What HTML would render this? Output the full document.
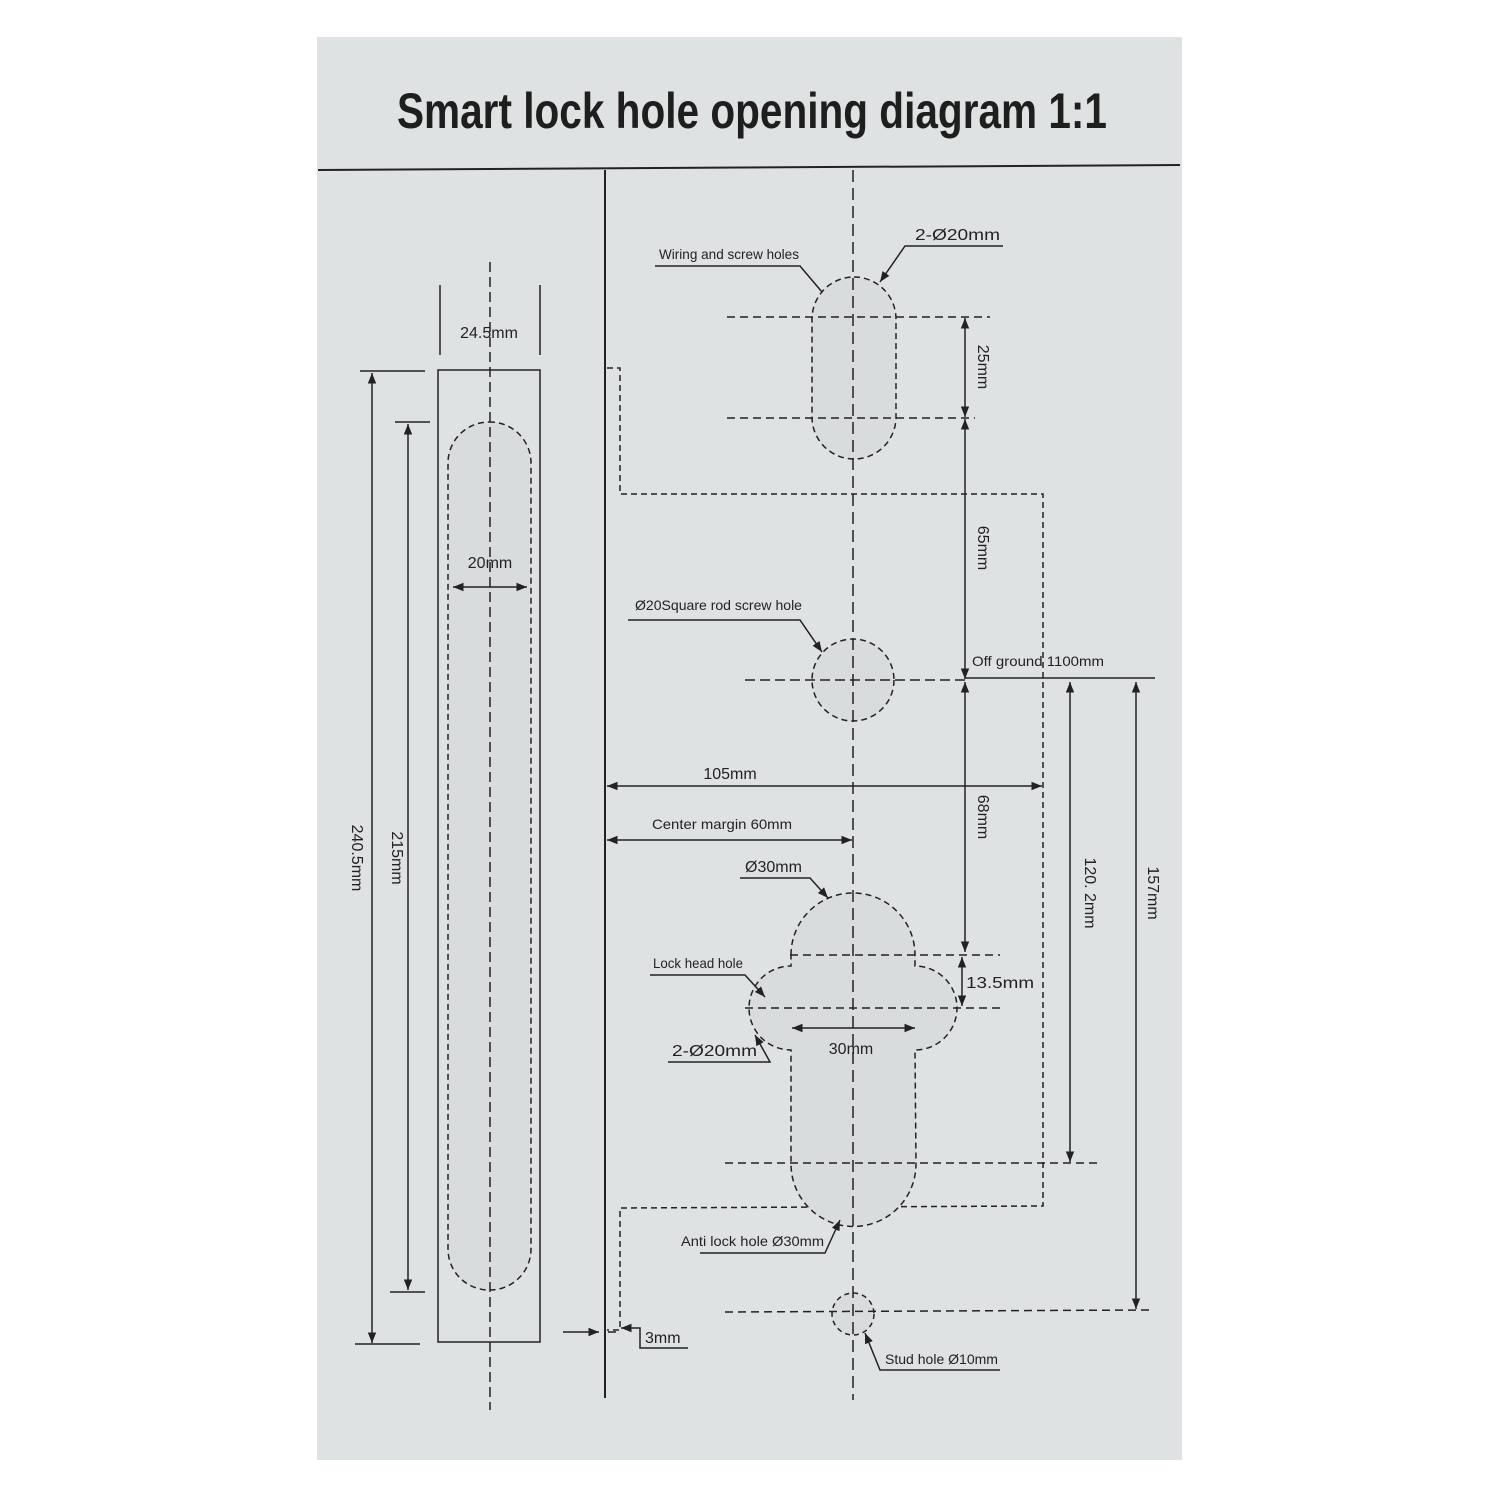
<!DOCTYPE html>
<html><head><meta charset="utf-8"><style>
html,body{margin:0;padding:0;background:#fff;width:1500px;height:1500px;overflow:hidden}
svg{display:block}
text{font-family:"Liberation Sans",sans-serif;fill:#222}
</style></head><body>
<svg width="1500" height="1500" viewBox="0 0 1500 1500" xmlns="http://www.w3.org/2000/svg">
<defs>
<marker id="a" viewBox="0 0 10 10" refX="10" refY="5" markerWidth="7" markerHeight="7" orient="auto-start-reverse"><path d="M0,1 L10,5 L0,9 z" fill="#222"/></marker>
</defs>
<rect width="1500" height="1500" fill="#fff"/>
<rect x="317" y="37" width="865" height="1423" fill="#dfe2e3"/>
<text x="752" y="128" font-size="50" text-anchor="middle" textLength="710" lengthAdjust="spacingAndGlyphs" font-weight="bold" style="fill:#1e1e1e">Smart lock hole opening diagram 1:1</text>
<line x1="318" y1="170" x2="1180" y2="165" stroke="#222" stroke-width="2"/>
<line x1="605" y1="170" x2="605" y2="1398" stroke="#222" stroke-width="2"/>

<g stroke="#222" stroke-width="1.5" fill="none">
<rect x="438" y="370" width="102" height="972"/>
<line x1="440" y1="285" x2="440" y2="355"/><line x1="540" y1="285" x2="540" y2="355"/>
<rect x="448" y="422" width="83" height="868" rx="41" fill="#d9dcdd" stroke-dasharray="6,4"/>
<line x1="490" y1="262" x2="490" y2="1410" stroke-dasharray="10,5"/>
<line x1="453" y1="587" x2="527" y2="587" marker-start="url(#a)" marker-end="url(#a)"/>
<line x1="360" y1="371" x2="425" y2="371"/><line x1="355" y1="1344" x2="420" y2="1344"/>
<line x1="372" y1="373" x2="372" y2="1343" marker-start="url(#a)" marker-end="url(#a)"/>
<line x1="395" y1="422" x2="430" y2="422"/><line x1="390" y1="1292" x2="425" y2="1292"/>
<line x1="408" y1="424" x2="408" y2="1290" marker-start="url(#a)" marker-end="url(#a)"/>

<path d="M607,368 L620,368 L620,494 L1043,494 L1043,1206 L620,1208 L620,1330 L607,1330" stroke-dasharray="6,4"/>

<rect x="812" y="277" width="84" height="182" rx="42" fill="#d9dcdd" stroke-dasharray="6,4"/>
<line x1="727" y1="317" x2="990" y2="317" stroke-dasharray="8,5"/>
<line x1="727" y1="418" x2="975" y2="418" stroke-dasharray="8,5"/>
<line x1="965" y1="318" x2="965" y2="417" marker-start="url(#a)" marker-end="url(#a)"/>
<line x1="965" y1="419" x2="965" y2="679" marker-start="url(#a)" marker-end="url(#a)"/>
<polyline points="655,266 800,266 822,292"/>
<polyline points="1003,246 905,246 880,282" marker-end="url(#a)"/>

<circle cx="853" cy="680" r="41" fill="#d9dcdd" stroke-dasharray="6,4"/>
<line x1="745" y1="680" x2="965" y2="680" stroke-dasharray="10,5"/>
<line x1="965" y1="678" x2="1155" y2="678"/>
<polyline points="628,620 800,620 822,652" marker-end="url(#a)"/>

<line x1="607" y1="786" x2="1042" y2="786" marker-start="url(#a)" marker-end="url(#a)"/>
<line x1="607" y1="840" x2="852" y2="840" marker-start="url(#a)" marker-end="url(#a)"/>
<line x1="965" y1="682" x2="965" y2="952" marker-start="url(#a)" marker-end="url(#a)"/>
<line x1="1070" y1="682" x2="1070" y2="1162" marker-start="url(#a)" marker-end="url(#a)"/>
<line x1="1136" y1="682" x2="1136" y2="1309" marker-start="url(#a)" marker-end="url(#a)"/>

<path d="M791,955 A62,62 0 0 1 915,955 L915,966 A42,42 0 0 1 915,1050 L916,1164 A62,62 0 0 1 791,1164 L791,1050 A42,42 0 0 1 791,966 Z" fill="#d9dcdd" stroke-dasharray="6,4"/>
<line x1="790" y1="955" x2="1000" y2="955" stroke-dasharray="8,5"/>
<line x1="745" y1="1008" x2="1000" y2="1008" stroke-dasharray="8,5"/>
<line x1="962" y1="957" x2="962" y2="1006" marker-start="url(#a)" marker-end="url(#a)"/>
<line x1="792" y1="1028" x2="915" y2="1028" marker-start="url(#a)" marker-end="url(#a)"/>
<line x1="725" y1="1163" x2="1100" y2="1163" stroke-dasharray="8,5"/>
<polyline points="740,878 810,878 828,898" marker-end="url(#a)"/>
<polyline points="650,975 745,975 765,997" marker-end="url(#a)"/>
<polyline points="668,1062 770,1062 755,1035" marker-end="url(#a)"/>
<polyline points="700,1253 825,1253 840,1220" marker-end="url(#a)"/>

<circle cx="853" cy="1314" r="21" fill="#d9dcdd" stroke-dasharray="5,4"/>
<line x1="725" y1="1312" x2="1150" y2="1310" stroke-dasharray="8,5"/>
<polyline points="1000,1370 880,1370 865,1333" marker-end="url(#a)"/>

<line x1="853" y1="170" x2="853" y2="1400" stroke-dasharray="12,6"/>

<line x1="563" y1="1332" x2="599" y2="1332" marker-end="url(#a)"/>
<line x1="608" y1="1332" x2="616" y2="1332"/>
<polyline points="688,1348 640,1348 640,1328 621,1328" marker-end="url(#a)"/>
</g>

<g font-size="16">
<text x="489" y="338" text-anchor="middle">24.5mm</text>
<text x="490" y="568" text-anchor="middle">20mm</text>
<text transform="translate(352,858) rotate(90)" text-anchor="middle">240.5mm</text>
<text transform="translate(392,858) rotate(90)" text-anchor="middle">215mm</text>
<text x="659" y="259" font-size="14" textLength="140" lengthAdjust="spacingAndGlyphs">Wiring and screw holes</text>
<text x="915" y="240" textLength="85" lengthAdjust="spacingAndGlyphs">2-Ø20mm</text>
<text transform="translate(978,367) rotate(90)" text-anchor="middle">25mm</text>
<text transform="translate(978,548) rotate(90)" text-anchor="middle">65mm</text>
<text x="635" y="610" font-size="14" textLength="167" lengthAdjust="spacingAndGlyphs">Ø20Square rod screw hole</text>
<text x="972" y="666" font-size="14" textLength="132" lengthAdjust="spacingAndGlyphs">Off ground 1100mm</text>
<text x="730" y="779" text-anchor="middle">105mm</text>
<text x="652" y="829" font-size="14" textLength="140" lengthAdjust="spacingAndGlyphs">Center margin 60mm</text>
<text transform="translate(978,817) rotate(90)" text-anchor="middle">68mm</text>
<text transform="translate(1085,893) rotate(90)" text-anchor="middle">120. 2mm</text>
<text transform="translate(1148,893) rotate(90)" text-anchor="middle">157mm</text>
<text x="745" y="872">Ø30mm</text>
<text x="653" y="968" font-size="14" textLength="90" lengthAdjust="spacingAndGlyphs">Lock head hole</text>
<text x="966" y="988" textLength="68" lengthAdjust="spacingAndGlyphs">13.5mm</text>
<text x="851" y="1054" text-anchor="middle">30mm</text>
<text x="672" y="1056" textLength="85" lengthAdjust="spacingAndGlyphs">2-Ø20mm</text>
<text x="681" y="1246" font-size="14" textLength="143" lengthAdjust="spacingAndGlyphs">Anti lock hole Ø30mm</text>
<text x="885" y="1364" font-size="14" textLength="113" lengthAdjust="spacingAndGlyphs">Stud hole Ø10mm</text>
<text x="645" y="1343">3mm</text>
</g>
</svg>
</body></html>
